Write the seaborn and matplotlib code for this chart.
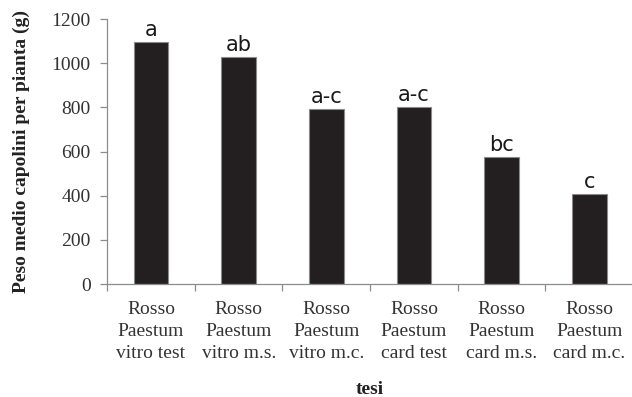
import matplotlib
matplotlib.use("Agg")
import matplotlib.pyplot as plt
import seaborn as sns
import pandas as pd
from matplotlib.ticker import FixedLocator

# Treatments and mean head weight per plant (g)
tesi = [
    "Rosso\nPaestum\nvitro test",
    "Rosso\nPaestum\nvitro m.s.",
    "Rosso\nPaestum\nvitro m.c.",
    "Rosso\nPaestum\ncard test",
    "Rosso\nPaestum\ncard m.s.",
    "Rosso\nPaestum\ncard m.c.",
]
peso = [1097, 1027, 791, 800, 574, 406]
lettere = ["a", "ab", "a-c", "a-c", "bc", "c"]

df = pd.DataFrame({"tesi": tesi, "peso": peso})

sns.set_theme(style="white")
serif = ["Liberation Serif", "DejaVu Serif"]
spine_col = "#8c8c8c"
text_col = "#333333"

fig = plt.figure(figsize=(6.32, 3.97), dpi=100)
ax = fig.add_axes([0.1696, 0.2846, 0.8320, 0.6674])

sns.barplot(data=df, x="tesi", y="peso", color="#231f20", width=0.395,
            edgecolor="#8a8a8a", linewidth=0.8, saturation=1, ax=ax)

for i, (v, lab) in enumerate(zip(peso, lettere)):
    ax.text(i, v + 10, lab, ha="center", va="bottom", fontsize=15,
            color="#1a1a1a", family="DejaVu Sans")

ax.set_xlim(-0.5, 5.5)
ax.set_ylim(0, 1200)
ax.set_yticks(range(0, 1201, 200))
ax.set_yticklabels([str(t) for t in range(0, 1201, 200)],
                   family=serif, fontsize=14, color=text_col)
ax.set_xticks(range(len(tesi)))
ax.set_xticklabels(tesi, family=serif, fontsize=14, color=text_col,
                   linespacing=1.38)
ax.xaxis.set_minor_locator(FixedLocator([i - 0.5 for i in range(len(tesi) + 1)]))
ax.tick_params(axis="x", which="major", length=0, pad=12)
ax.tick_params(axis="x", which="minor", length=5, width=0.9,
               color=spine_col, direction="out", bottom=True)
ax.tick_params(axis="y", length=5, width=0.9, color=spine_col,
               direction="out", left=True, pad=7)

for s in ["top", "right"]:
    ax.spines[s].set_visible(False)
for s in ["left", "bottom"]:
    ax.spines[s].set_color(spine_col)
    ax.spines[s].set_linewidth(0.9)

ax.set_ylabel("Peso medio capolini per pianta (g)", family=serif,
              fontsize=14, fontweight="bold", color="#222222", labelpad=15)
ax.set_xlabel("tesi", family=serif, fontsize=14, fontweight="bold",
              color="#222222", labelpad=14)

# keep the wider line spacing on the three-line category labels
fig.canvas.draw()
for t in ax.xaxis.get_majorticklabels():
    t.set_linespacing(1.38)

fig.savefig("out.png", dpi=100)
